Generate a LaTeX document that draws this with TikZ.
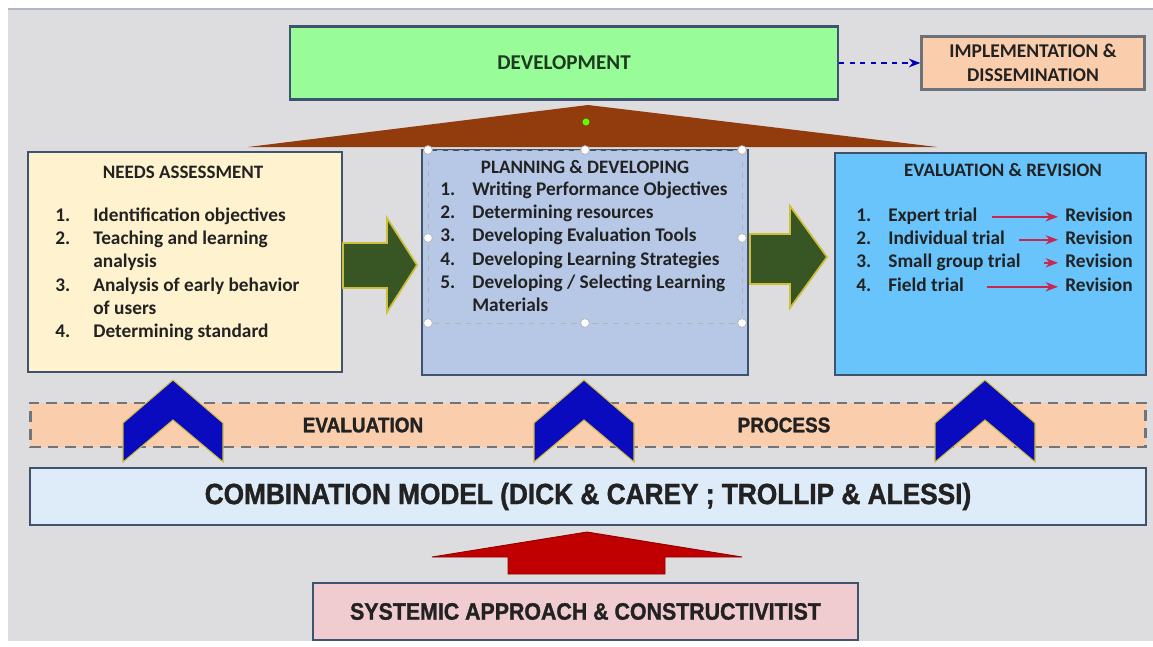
\documentclass[tikz,border=0pt]{standalone}
\usepackage{fontspec}
\setmainfont{Carlito}
\newfontfamily\condfont[FakeStretch=0.9, BoldFont={Liberation Sans Bold}, BoldFeatures={FakeBold=1.3}]{Liberation Sans}
\usetikzlibrary{arrows.meta}
\usetikzlibrary{positioning}

\definecolor{bggray}{RGB}{221,221,223}
\definecolor{topline}{RGB}{176,182,198}
\definecolor{devgreen}{RGB}{152,252,152}
\definecolor{peach}{RGB}{250,206,172}
\definecolor{cream}{RGB}{255,242,206}
\definecolor{planblue}{RGB}{183,200,230}
\definecolor{skyblue}{RGB}{104,196,250}
\definecolor{paleblue}{RGB}{222,235,248}
\definecolor{rosepink}{RGB}{240,204,208}
\definecolor{slate}{RGB}{62,84,110}
\definecolor{roofbrown}{RGB}{146,60,14}
\definecolor{darkolive}{RGB}{56,86,35}
\definecolor{glow}{RGB}{205,190,60}
\definecolor{chevblue}{RGB}{10,10,190}
\definecolor{arrowred}{RGB}{192,0,0}
\definecolor{revred}{RGB}{200,40,80}
\definecolor{inktext}{RGB}{34,34,34}
\definecolor{devtext}{RGB}{28,58,30}

\begin{document}
\begin{tikzpicture}[x=0.02cm,y=-0.02cm,>=Stealth,
    box/.style={draw=slate, line width=1.3pt, inner sep=0pt},
    heading/.style={font=\fontsize{10.8}{12}\selectfont\bfseries, text=inktext},
    entry/.style={font=\fontsize{11}{13.3}\selectfont\bfseries, text=inktext, inner sep=0pt, anchor=base west},
    bandtext/.style={font=\condfont\fontsize{12}{14}\selectfont\bfseries, text=inktext},
    chevron/.style={fill=chevblue, draw=glow, line width=0.6pt},
    blockarrow/.style={fill=darkolive, draw=glow, line width=1pt},
    handle/.style={circle, fill=white, draw=gray!60, inner sep=0pt, minimum size=5pt}]
    \useasboundingbox (0,0) rectangle (1153,646);
    \fill[white] (0,0) rectangle (1153,646);
    \fill[bggray] (8,9) rectangle (1153,641);
    \draw[topline, line width=1pt] (8,9) -- (1153,9);

    % top row
    \node[box, fill=devgreen, minimum width=10.96cm, minimum height=1.46cm,
          font=\fontsize{12}{14}\selectfont\bfseries, text=devtext] (dev) at (564,63) {DEVELOPMENT};
    \node[box, draw=gray!70!slate, fill=peach, minimum width=4.46cm, minimum height=1.06cm,
          align=center, font=\fontsize{11.1}{14}\selectfont\bfseries, text=inktext] (impl) at (1033,63) {IMPLEMENTATION \&\\DISSEMINATION};
    \draw[->, blue!75!black, dashed, thick] (dev.east) -- (impl.west);

    % roof over the three stages
    \fill[roofbrown] (248,147) -- (588,105) -- (937,147) -- cycle;
    \fill[green!65!yellow] (586,122) circle (2pt);

    % three stages
    \node[box, fill=cream, minimum width=6.28cm, minimum height=4.4cm] (needs) at (185,262) {};
    \node[box, fill=planblue, minimum width=6.52cm, minimum height=4.5cm] (plan) at (585,262.5) {};
    \node[box, fill=skyblue, minimum width=6.22cm, minimum height=4.44cm] (eval) at (990.5,264) {};

    \node[heading] (needs-title) at (183,172) {NEEDS ASSESSMENT};
    \node[entry] (needs-list) at (55,221) {\begin{tabular}[t]{@{}p{0.76cm}@{}l@{}}
        1. & Identification objectives\\
        2. & Teaching and learning\\
           & analysis\\
        3. & Analysis of early behavior\\
           & of users\\
        4. & Determining standard
      \end{tabular}};

    % selection frame left on the text box
    \draw[gray!60, dashed] (428,150) rectangle (742,323);
    \node[handle] (h1) at (428,150) {};
    \node[handle] (h2) at (585,150) {};
    \node[handle] (h3) at (742,150) {};
    \node[handle] (h4) at (428,238) {};
    \node[handle] (h5) at (742,238) {};
    \node[handle] (h6) at (428,323) {};
    \node[handle] (h7) at (585,323) {};
    \node[handle] (h8) at (742,323) {};

    \node[heading] (plan-title) at (585,167) {PLANNING \& DEVELOPING};
    \node[entry] (plan-list) at (440,195) {\begin{tabular}[t]{@{}p{0.64cm}@{}l@{}}
        1. & Writing Performance Objectives\\
        2. & Determining resources\\
        3. & Developing Evaluation Tools\\
        4. & Developing Learning Strategies\\
        5. & Developing / Selecting Learning\\
           & Materials
      \end{tabular}};

    \node[heading] (eval-title) at (1003,170) {EVALUATION \& REVISION};
    \node[entry] (n1) at (856,221) {1.};
    \node[entry] (n2) at (856,244) {2.};
    \node[entry] (n3) at (856,267) {3.};
    \node[entry] (n4) at (856,291) {4.};
    \node[entry] (t1) at (888,221) {Expert trial};
    \node[entry] (t2) at (888,244) {Individual trial};
    \node[entry] (t3) at (888,267) {Small group trial};
    \node[entry] (t4) at (888,291) {Field trial};
    \node[entry] (r1) at (1065,221) {Revision};
    \node[entry] (r2) at (1065,244) {Revision};
    \node[entry] (r3) at (1065,267) {Revision};
    \node[entry] (r4) at (1065,291) {Revision};
    \draw[->, revred, line width=0.9pt, shorten <=8pt, shorten >=4pt] (t1.mid east) -- (r1.mid west);
    \draw[->, revred, line width=0.9pt, shorten <=8pt, shorten >=4pt] (t2.mid east) -- (r2.mid west);
    \draw[->, revred, line width=0.9pt, shorten <=13pt, shorten >=4pt] (t3.mid east) -- (r3.mid west);
    \draw[->, revred, line width=0.9pt, shorten <=13pt, shorten >=4pt] (t4.mid east) -- (r4.mid west);

    % block arrows between the stages
    \draw[blockarrow] (343,243) -- (387,243) -- (387,218) -- (417,265) -- (387,312) -- (387,288) -- (343,288) -- cycle;
    \draw[blockarrow] (750,234) -- (790,234) -- (790,206) -- (827,257) -- (790,308) -- (790,284) -- (750,284) -- cycle;

    % evaluation process band
    \node[draw=gray!75!slate, dashed, dash pattern=on 6pt off 4pt, line width=1.6pt, fill=peach,
          minimum width=22.32cm, minimum height=0.88cm] (band) at (588,425) {};
    \node[bandtext] (band-left) at (363,425) {EVALUATION};
    \node[bandtext] (band-right) at (784,425) {PROCESS};

    \node[box, fill=paleblue, minimum width=22.32cm, minimum height=1.14cm,
          font=\condfont\fontsize{16.6}{18}\selectfont\bfseries, text=inktext] (combo) at (588,496.5)
          {COMBINATION MODEL (DICK \& CAREY ; TROLLIP \& ALESSI)};

    % chevrons rising from the model
    \draw[chevron] (123,462) -- (123,423) -- (173,380) -- (223,423) -- (223,462) -- (173,420) -- cycle;
    \draw[chevron] (534,462) -- (534,423) -- (584,380) -- (634,423) -- (634,462) -- (584,420) -- cycle;
    \draw[chevron] (935,462) -- (935,423) -- (985,380) -- (1035,423) -- (1035,462) -- (985,420) -- cycle;

    % foundation
    \draw[arrowred!75!black, fill=arrowred, line width=0.5pt] (508,574) -- (508,557) -- (432,557) -- (587,532) -- (742,557) -- (665,557) -- (665,574) -- cycle;
    \node[box, fill=rosepink, minimum width=10.9cm, minimum height=1.14cm,
          font=\condfont\fontsize{13.5}{15}\selectfont\bfseries, text=inktext] (sys) at (585.5,611.5)
          {SYSTEMIC APPROACH \& CONSTRUCTIVITIST};
\end{tikzpicture}
\end{document}
